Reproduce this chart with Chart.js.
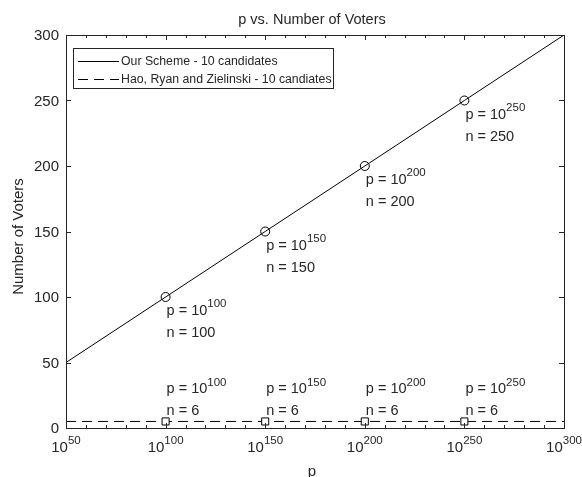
<!DOCTYPE html>
<html><head><meta charset="utf-8">
<script src="https://cdn.jsdelivr.net/npm/chart.js@4.4.1/dist/chart.umd.min.js"></script>
<style>html,body{margin:0;padding:0;background:#fff}#wrap{width:582px;height:477px;position:relative}</style>
</head><body><div id="wrap"><canvas id="c" width="582" height="477"></canvas></div>
<script>
// ---- data (x = exponent of p, i.e. p = 10^x) ----
const exponents = [50, 100, 150, 200, 250, 300];
const ourScheme = [50, 100, 150, 200, 250, 300];
const haoRyanZielinski = [5, 5, 5, 5, 5, 5];
const markedExponents = [100, 150, 200, 250];
const haoAnnotatedN = [6, 6, 6, 6];
const xTickExponents = [50, 100, 150, 200, 250, 300];
const yTickValues = [0, 50, 100, 150, 200, 250, 300];
const seriesLabels = ['Our Scheme - 10 candidates', 'Hao, Ryan and Zielinski - 10 candiates'];
const titleText = 'p vs. Number of Voters';
const xTitle = 'p';
const yTitle = 'Number of Voters';

const INK = '#262626';
const FONT = '"Liberation Sans", Arial, Helvetica, sans-serif';

function pts(ys) { return exponents.map((e, i) => ({ x: e, y: ys[i] })); }
function markRadius(r) { return exponents.map(e => markedExponents.includes(e) ? r : 0); }

function drawSup(ctx, base, sup, x, y, align, bSize, sSize, raise) {
  ctx.font = bSize + 'px ' + FONT;
  const wb = ctx.measureText(base).width;
  ctx.font = sSize + 'px ' + FONT;
  const ws = ctx.measureText(sup).width;
  let x0 = x;
  if (align === 'center') x0 = x - (wb + ws) / 2;
  ctx.textAlign = 'left';
  ctx.textBaseline = 'middle';
  ctx.font = bSize + 'px ' + FONT;
  ctx.fillText(base, x0, y);
  ctx.font = sSize + 'px ' + FONT;
  ctx.fillText(sup, x0 + wb, y - raise);
}

const decor = {
  id: 'decor',
  afterDraw(chart) {
    const ctx = chart.ctx;
    const a = chart.chartArea;
    const xs = chart.scales.x, ys = chart.scales.y;
    ctx.save();
    ctx.strokeStyle = INK;
    ctx.fillStyle = INK;
    ctx.lineWidth = 1;
    // box
    ctx.strokeRect(Math.round(a.left) + 0.5, Math.round(a.top) + 0.5,
                   Math.round(a.right - a.left), Math.round(a.bottom - a.top));
    // x ticks (major + minor), bottom and top
    for (let e = xs.min; e <= xs.max; e += 10) {
      const px = Math.round(xs.getPixelForValue(e)) + 0.5;
      const len = (e % 50 === 0) ? 5 : 3;
      ctx.beginPath();
      ctx.moveTo(px, a.bottom); ctx.lineTo(px, a.bottom - len);
      ctx.moveTo(px, a.top); ctx.lineTo(px, a.top + len);
      ctx.stroke();
    }
    // y ticks left and right
    yTickValues.forEach(v => {
      const py = Math.round(ys.getPixelForValue(v)) + 0.5;
      ctx.beginPath();
      ctx.moveTo(a.left, py); ctx.lineTo(a.left + 5, py);
      ctx.moveTo(a.right, py); ctx.lineTo(a.right - 5, py);
      ctx.stroke();
    });
    // y tick labels
    ctx.font = '15px ' + FONT;
    ctx.textAlign = 'right';
    ctx.textBaseline = 'middle';
    yTickValues.forEach(v => {
      ctx.fillText(String(v), a.left - 7, ys.getPixelForValue(v) + 1);
    });
    // x tick labels 10^e
    xTickExponents.forEach(e => {
      drawSup(ctx, '10', String(e), xs.getPixelForValue(e), a.bottom + 20, 'center', 15, 11.5, 7);
    });
    // title
    ctx.font = '14.5px ' + FONT;
    ctx.textAlign = 'center';
    ctx.textBaseline = 'middle';
    ctx.fillText(titleText, (a.left + a.right) / 2 - 3, 20);
    // x title
    ctx.font = '15px ' + FONT;
    ctx.fillText(xTitle, (a.left + a.right) / 2 - 3, a.bottom + 44);
    // y title
    ctx.save();
    ctx.translate(19, (a.top + a.bottom) / 2 + 5);
    ctx.rotate(-Math.PI / 2);
    ctx.fillText(yTitle, 0, 0);
    ctx.restore();
    // annotations
    markedExponents.forEach((e, i) => {
      const idx = exponents.indexOf(e);
      const px = xs.getPixelForValue(e) + 1;
      const py1 = ys.getPixelForValue(ourScheme[idx]);
      drawSup(ctx, 'p = 10', String(e), px, py1 + 14, 'left', 14.5, 11.5, 7);
      ctx.font = '14.5px ' + FONT;
      ctx.fillText('n = ' + ourScheme[idx], px, py1 + 36);
      const py2 = ys.getPixelForValue(haoRyanZielinski[idx]);
      drawSup(ctx, 'p = 10', String(e), px, py2 - 32, 'left', 14.5, 11.5, 7);
      ctx.font = '14.5px ' + FONT;
      ctx.fillText('n = ' + haoAnnotatedN[i], px, py2 - 10);
    });
    // legend
    const lx = a.left + 7, ly = a.top + 13, lw = 260, lh = 40;
    ctx.fillStyle = '#ffffff';
    ctx.fillRect(lx, ly, lw, lh);
    ctx.strokeStyle = INK;
    ctx.strokeRect(lx + 0.5, ly + 0.5, lw, lh);
    chart.data.datasets.forEach((ds, i) => {
      const yy = ly + 13.5 + i * 18;
      ctx.strokeStyle = ds.borderColor;
      ctx.lineWidth = ds.borderWidth;
      ctx.setLineDash(ds.borderDash || []);
      ctx.beginPath();
      ctx.moveTo(lx + 5, yy); ctx.lineTo(lx + 46, yy);
      ctx.stroke();
      ctx.setLineDash([]);
      ctx.fillStyle = INK;
      ctx.font = '12.3px ' + FONT;
      ctx.textAlign = 'left';
      ctx.textBaseline = 'middle';
      ctx.fillText(ds.label, lx + 48, yy);
    });
    ctx.restore();
  }
};

new Chart(document.getElementById('c'), {
  type: 'line',
  data: {
    datasets: [
      {
        label: seriesLabels[0],
        data: pts(ourScheme),
        borderColor: '#000000',
        borderWidth: 1,
        pointStyle: 'circle',
        pointRadius: markRadius(4.5),
        pointBorderColor: '#000000',
        pointBackgroundColor: 'rgba(0,0,0,0)',
        pointBorderWidth: 1,
        tension: 0
      },
      {
        label: seriesLabels[1],
        data: pts(haoRyanZielinski),
        borderColor: '#000000',
        borderWidth: 1,
        borderDash: [10, 6],
        pointStyle: 'rect',
        pointRadius: markRadius(5),
        pointBorderColor: '#000000',
        pointBackgroundColor: '#ffffff',
        pointBorderWidth: 1,
        tension: 0
      }
    ]
  },
  options: {
    responsive: false,
    animation: false,
    events: [],
    layout: { padding: { left: 66, right: 18, top: 35, bottom: 49 } },
    plugins: { legend: { display: false }, tooltip: { enabled: false }, title: { display: false } },
    scales: {
      x: { type: 'linear', min: 50, max: 300,
           ticks: { display: false }, grid: { display: false, drawTicks: false },
           border: { display: false } },
      y: { type: 'linear', min: 0, max: 300,
           ticks: { display: false }, grid: { display: false, drawTicks: false },
           border: { display: false } }
    }
  },
  plugins: [decor]
});
</script>
</body></html>
